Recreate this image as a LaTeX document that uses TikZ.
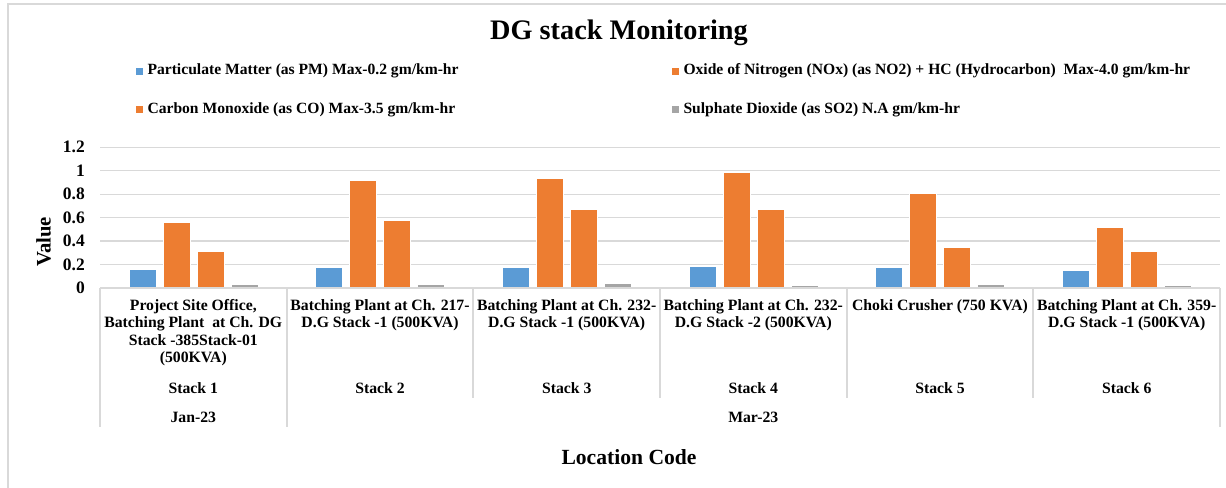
\documentclass[tikz,border=0pt]{standalone}
\usepackage{fontspec}
\setmainfont{Liberation Serif}
\usetikzlibrary{positioning}
\definecolor{azulpm}{HTML}{5B9BD5}
\definecolor{naranja}{HTML}{ED7D31}
\definecolor{grisso}{HTML}{A5A5A5}
\definecolor{rejilla}{HTML}{D9D9D9}
\tikzset{
  pm/.style={fill=azulpm, draw=white, line width=0.3pt},
  nox/.style={fill=naranja, draw=white, line width=0.3pt},
  co/.style={fill=naranja, draw=white, line width=0.3pt},
  so/.style={fill=grisso, draw=white, line width=0.3pt},
  linea/.style={draw=rejilla, line width=1pt},
  cuadro/.style={minimum size=5.25pt, inner sep=0pt},
  leyenda/.style={inner sep=0pt, text height=0.68em, text depth=0.22em,
    font=\fontsize{11.7pt}{13pt}\selectfont\bfseries},
  categoria/.style={inner sep=0pt, align=center,
    font=\fontsize{11.8pt}{13.1pt}\selectfont\bfseries},
  marca/.style={anchor=east, inner sep=0pt,
    font=\fontsize{13.1pt}{15pt}\selectfont\bfseries}
}

\begin{document}
\begin{tikzpicture}[x=0.75pt, y=-0.75pt]
        % Marco del grafico
        \useasboundingbox (0,0) rectangle (1226,488);
        \draw[rejilla, line width=0.8pt] (8,488) -- (8,4) -- (1226,4);
        % Titulo
        \node[font=\fontsize{21.2pt}{25pt}\selectfont\bfseries] (titulo) at (619,33) {DG stack Monitoring};
        % Leyenda
        \node[cuadro, fill=azulpm] (l1) at (139.5,71.7) {};
        \node[leyenda, right=3pt of l1] (t1) {Particulate Matter (as PM) Max-0.2 gm/km-hr};
        \node[cuadro, fill=naranja] (l2) at (675.5,71.7) {};
        \node[leyenda, right=3pt of l2] (t2) {Oxide of Nitrogen (NOx) (as NO2) + HC (Hydrocarbon)\ \ Max-4.0 gm/km-hr};
        \node[cuadro, fill=naranja] (l3) at (139.5,110) {};
        \node[leyenda, right=3pt of l3] (t3) {Carbon Monoxide (as CO) Max-3.5 gm/km-hr};
        \node[cuadro, fill=grisso] (l4) at (675.5,110) {};
        \node[leyenda, right=3pt of l4] (t4) {Sulphate Dioxide (as SO2) N.A gm/km-hr};
        % Zona de barras (x en px, y en valor)
        \begin{scope}[shift={(100,288)}, x=0.75pt, y=87.9375pt]
        % Rejilla
        \draw[linea] (0,0.2) -- (1120,0.2);
        \draw[linea] (0,0.4) -- (1120,0.4);
        \draw[linea] (0,0.6) -- (1120,0.6);
        \draw[linea] (0,0.8) -- (1120,0.8);
        \draw[linea] (0,1) -- (1120,1);
        \draw[linea] (0,1.2) -- (1120,1.2);
        % Valores del eje
        \node[marca] (v0) at (-15,0) {0};
        \node[marca] (v1) at (-15,0.2) {0.2};
        \node[marca] (v2) at (-15,0.4) {0.4};
        \node[marca] (v3) at (-15,0.6) {0.6};
        \node[marca] (v4) at (-15,0.8) {0.8};
        \node[marca] (v5) at (-15,1) {1};
        \node[marca] (v6) at (-15,1.2) {1.2};
        % Stack 1
        \filldraw[pm] (28.8,0) rectangle (55.8,0.16);
        \filldraw[nox] (62.8,0) rectangle (89.8,0.56);
        \filldraw[co] (96.8,0) rectangle (123.8,0.31);
        \filldraw[so] (130.8,0) rectangle (157.8,0.03);
        % Stack 2
        \filldraw[pm] (215.5,0) rectangle (242.5,0.18);
        \filldraw[nox] (249.5,0) rectangle (276.5,0.92);
        \filldraw[co] (283.5,0) rectangle (310.5,0.58);
        \filldraw[so] (317.5,0) rectangle (344.5,0.03);
        % Stack 3
        \filldraw[pm] (402.2,0) rectangle (429.2,0.18);
        \filldraw[nox] (436.2,0) rectangle (463.2,0.94);
        \filldraw[co] (470.2,0) rectangle (497.2,0.67);
        \filldraw[so] (504.2,0) rectangle (531.2,0.04);
        % Stack 4
        \filldraw[pm] (588.8,0) rectangle (615.8,0.19);
        \filldraw[nox] (622.8,0) rectangle (649.8,0.99);
        \filldraw[co] (656.8,0) rectangle (683.8,0.67);
        \filldraw[so] (690.8,0) rectangle (717.8,0.02);
        % Stack 5
        \filldraw[pm] (775.5,0) rectangle (802.5,0.18);
        \filldraw[nox] (809.5,0) rectangle (836.5,0.81);
        \filldraw[co] (843.5,0) rectangle (870.5,0.35);
        \filldraw[so] (877.5,0) rectangle (904.5,0.03);
        % Stack 6
        \filldraw[pm] (962.2,0) rectangle (989.2,0.15);
        \filldraw[nox] (996.2,0) rectangle (1023.2,0.52);
        \filldraw[co] (1030.2,0) rectangle (1057.2,0.31);
        \filldraw[so] (1064.2,0) rectangle (1091.2,0.02);
        \end{scope}
        % Tabla de categorias
        \draw[rejilla, line width=0.8pt] (100,288) -- (1220,288);
        \draw[rejilla, line width=0.8pt] (100,288) -- (100,427);
        \draw[rejilla, line width=0.8pt] (287,288) -- (287,427);
        \draw[rejilla, line width=0.8pt] (473,288) -- (473,398);
        \draw[rejilla, line width=0.8pt] (660,288) -- (660,398);
        \draw[rejilla, line width=0.8pt] (847,288) -- (847,398);
        \draw[rejilla, line width=0.8pt] (1033,288) -- (1033,398);
        \draw[rejilla, line width=0.8pt] (1220,288) -- (1220,427);
        % Texto de las categorias
        \node[categoria, anchor=north] (c1) at (193.3,299) {Project Site Office,\\Batching Plant\ \ at Ch. DG\\Stack -385Stack-01\\(500KVA)};
        \node[categoria, anchor=north] (c2) at (380,299) {Batching Plant at Ch. 217-\\D.G Stack -1 (500KVA)};
        \node[categoria, anchor=north] (c3) at (566.7,299) {Batching Plant at Ch. 232-\\D.G Stack -1 (500KVA)};
        \node[categoria, anchor=north] (c4) at (753.3,299) {Batching Plant at Ch. 232-\\D.G Stack -2 (500KVA)};
        \node[categoria, anchor=north] (c5) at (940,299) {Choki Crusher (750 KVA)};
        \node[categoria, anchor=north] (c6) at (1126.7,299) {Batching Plant at Ch. 359-\\D.G Stack -1 (500KVA)};

        \node[categoria] (s1) at (193.3,388) {Stack 1};
        \node[categoria] (s2) at (380,388) {Stack 2};
        \node[categoria] (s3) at (566.7,388) {Stack 3};
        \node[categoria] (s4) at (753.3,388) {Stack 4};
        \node[categoria] (s5) at (940,388) {Stack 5};
        \node[categoria] (s6) at (1126.7,388) {Stack 6};

        \node[categoria] (m1) at (193.3,417.7) {Jan-23};
        \node[categoria] (m2) at (753.3,417.7) {Mar-23};
        % Titulos de ejes
        \node[rotate=90, font=\fontsize{15.5pt}{18pt}\selectfont\bfseries] (valor) at (43.5,242) {Value};
        \node[font=\fontsize{16.2pt}{19pt}\selectfont\bfseries] (codigo) at (629,457) {Location Code};
    \end{tikzpicture}
\end{document}
